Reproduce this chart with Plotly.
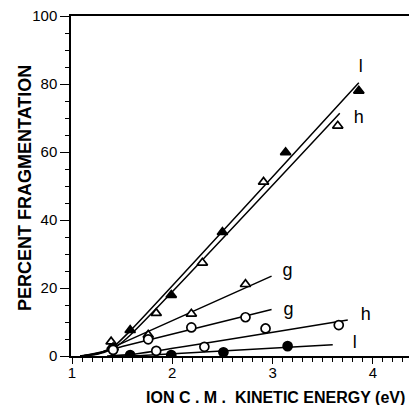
import plotly.graph_objects as go

# ---- data ----
# steep pair
x_tri_filled = [1.40, 1.58, 1.99, 2.50, 3.13, 3.86]
y_tri_filled = [2.8, 7.6, 17.9, 36.4, 59.9, 78.0]
x_tri_open_h = [1.39, 1.84, 2.30, 2.91, 3.65]
y_tri_open_h = [4.2, 12.6, 27.4, 51.2, 67.7]
# g pair
x_tri_open_g = [1.41, 1.76, 2.19, 2.73]
y_tri_open_g = [2.5, 6.2, 12.4, 21.1]
x_circ_open_g = [1.41, 1.76, 2.19, 2.73]
y_circ_open_g = [2.0, 4.9, 8.4, 11.4]
# low pair
x_circ_open_h = [1.41, 1.84, 2.32, 2.93, 3.66]
y_circ_open_h = [1.8, 1.5, 2.7, 8.1, 9.1]
x_circ_filled_l = [1.58, 1.99, 2.51, 3.15]
y_circ_filled_l = [0.3, 0.3, 1.1, 2.9]

# fitted lines
fit_l_steep_x = [1.08, 1.25, 1.40, 1.55, 3.86]
fit_l_steep_y = [0.0, 0.6, 2.4, 6.5, 80.4]
fit_h_steep_x = [1.08, 1.25, 1.40, 1.55, 3.67]
fit_h_steep_y = [0.0, 0.5, 2.0, 5.3, 71.4]
fit_g_upper_x = [1.10, 1.30, 1.50, 2.99]
fit_g_upper_y = [0.0, 1.2, 3.8, 23.5]
fit_g_lower_x = [1.08, 1.30, 1.50, 2.99]
fit_g_lower_y = [0.0, 1.2, 2.8, 13.7]
fit_h_lower_x = [1.35, 1.60, 3.75]
fit_h_lower_y = [0.0, 0.5, 10.6]
fit_l_lower_x = [1.45, 1.70, 3.60]
fit_l_lower_y = [0.0, 0.15, 3.3]

label_text = ["l", "h", "g", "g", "h", "l"]
label_x = [3.88, 3.86, 3.15, 3.16, 3.93, 3.82]
label_y = [85.0, 70.0, 25.0, 13.5, 11.8, 3.8]

y_ticks = [0, 20, 40, 60, 80, 100]
x_ticks = [1, 2, 3, 4]

x_title = "<b>ION C . M .  KINETIC ENERGY (eV)</b>"
y_title = "<b>PERCENT FRAGMENTATION</b>"

FONT = "Liberation Sans, Arial, sans-serif"

fig = go.Figure()

for fx, fy in [(fit_l_steep_x, fit_l_steep_y), (fit_h_steep_x, fit_h_steep_y),
               (fit_g_upper_x, fit_g_upper_y), (fit_g_lower_x, fit_g_lower_y),
               (fit_h_lower_x, fit_h_lower_y), (fit_l_lower_x, fit_l_lower_y)]:
    fig.add_trace(go.Scatter(x=fx, y=fy, mode="lines",
                             line=dict(color="black", width=1.5, shape="spline", smoothing=0.6),
                             showlegend=False, hoverinfo="skip"))

def pts(x, y, symbol, filled):
    fig.add_trace(go.Scatter(
        x=x, y=y, mode="markers", showlegend=False,
        marker=dict(symbol=symbol, size=9,
                    color="black" if filled else "white",
                    line=dict(color="black", width=1.7))))

pts(x_tri_filled, y_tri_filled, "triangle-up", True)
pts(x_tri_open_h, y_tri_open_h, "triangle-up", False)
pts(x_tri_open_g, y_tri_open_g, "triangle-up", False)
pts(x_circ_open_g, y_circ_open_g, "circle", False)
pts(x_circ_open_h, y_circ_open_h, "circle", False)
pts(x_circ_filled_l, y_circ_filled_l, "circle", True)

fig.add_trace(go.Scatter(x=label_x, y=label_y, mode="text", text=label_text,
                         textfont=dict(family=FONT, size=18, color="black"),
                         showlegend=False, hoverinfo="skip"))

# the page body adds an 8px margin: margins below compensate for it
fig.update_layout(
    width=417, height=405,
    margin=dict(l=63, r=0, t=8, b=57),
    paper_bgcolor="white", plot_bgcolor="white",
    font=dict(family=FONT, color="black", size=15),
    xaxis=dict(range=[0.99, 4.52], tickvals=x_ticks, ticktext=[str(v) for v in x_ticks],
               showgrid=False, zeroline=False, showline=True, linecolor="black",
               linewidth=1.5, mirror=True, ticks="outside", ticklen=6, tickwidth=1.3,
               tickcolor="black", ticklabelstandoff=-4,
               minor=dict(dtick=0.1, tick0=1, ticks="outside", ticklen=4, tickwidth=1,
                          tickcolor="black", showgrid=False)),
    yaxis=dict(range=[0, 100], tickvals=y_ticks, ticktext=[str(v) for v in y_ticks],
               showgrid=False, zeroline=False, showline=True, linecolor="black",
               linewidth=1.5, ticks="outside", ticklen=9, tickwidth=1.3, tickcolor="black",
               ticklabeloverflow="allow",
               minor=dict(dtick=5, ticks="outside", ticklen=4, tickwidth=1,
                          tickcolor="black", showgrid=False)),
    annotations=[
        dict(text=x_title, xref="paper", yref="paper", x=0.579, y=-0.1206,
             xanchor="center", yanchor="middle", showarrow=False,
             font=dict(family=FONT, size=16, color="black")),
        dict(text=y_title, xref="paper", yref="paper", x=-0.130, y=0.494,
             xanchor="center", yanchor="middle", showarrow=False, textangle=-90,
             font=dict(family=FONT, size=18, color="black")),
    ],
)

fig.write_html("out.html")
